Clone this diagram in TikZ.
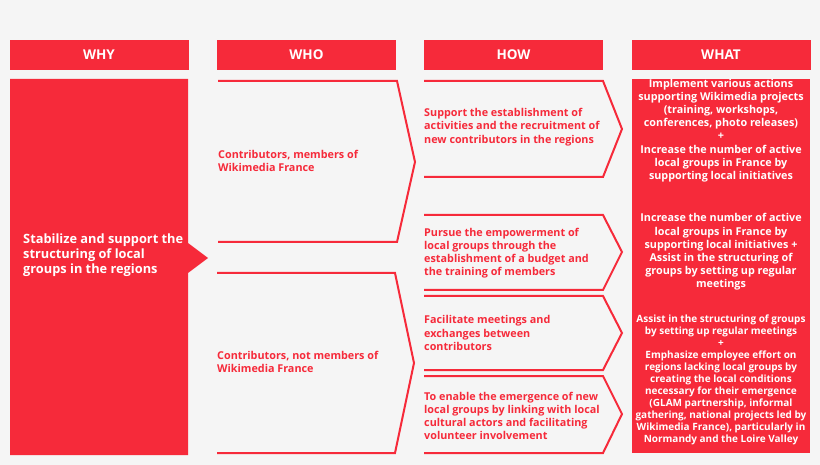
\documentclass[tikz,border=0pt]{standalone}
\usepackage{fontspec}
\setmainfont{Open Sans}
\definecolor{wmred}{RGB}{246,42,58}
\definecolor{wmback}{RGB}{245,245,245}

\begin{document}
\begin{tikzpicture}[x=1pt, y=-1pt,
  head/.style={fill=wmred, text=white, minimum width=179, minimum height=30, inner sep=0pt, font=\bfseries\fontsize{13.5}{15}\selectfont},
  redtext/.style={text=wmred, anchor=west, align=left, inner sep=0pt, font=\bfseries\fontsize{10.8}{13.2}\selectfont},
  whattext/.style={text=white, align=center, inner sep=0pt, font=\bfseries\fontsize{10.8}{13.2}\selectfont},
  chevron/.style={draw=wmred, line width=2pt, line join=miter}]

\fill [wmback] (0,0) rectangle (820,465);

% -------- headers -----------
\node [head] (hwhy)  at (99,55)    {WHY};
\node [head] (hwho)  at (306.5,55) {WHO};
\node [head] (hhow)  at (513.5,55) {HOW};
\node [head] (hwhat) at (721,55)   {WHAT};

% -------- WHY -----------
\fill [wmred] (10,79) -- (188,79) -- (188,243) -- (208,258) -- (188,273) -- (188,455) -- (10,455) -- cycle;
\node [text=white, anchor=west, align=left, inner sep=0pt, font=\bfseries\fontsize{12.8}{15}\selectfont] (why) at (23,255)
  {Stabilize and support the\\structuring of local\\groups in the regions};

% -------- WHO -----------
\draw [chevron] (218,81) -- (397,81) -- (415,162) -- (397,242) -- (218,242);
\node [redtext] (who1) at (218,161) {Contributors, members of\\Wikimedia France};

\draw [chevron] (217,273) -- (395,273) -- (414,363) -- (395,453) -- (217,453);
\node [redtext] (who2) at (217,362) {Contributors, not members of\\Wikimedia France};

% -------- HOW -----------
\draw [chevron] (424,81) -- (603,81) -- (622,129) -- (603,177) -- (424,177);
\node [redtext] (how1) at (424,127)
  {Support the establishment of\\activities and the recruitment of\\new contributors in the regions};

\draw [chevron] (424,215) -- (603,215) -- (622,252) -- (603,290) -- (424,290);
\node [redtext] (how2) at (424,253)
  {Pursue the empowerment of\\local groups through the\\establishment of a budget and\\the training of members};

\draw [chevron] (424,296) -- (603,296) -- (622,333) -- (603,370) -- (424,370);
\node [redtext] (how3) at (424,333)
  {Facilitate meetings and\\exchanges between\\contributors};

\draw [chevron] (424,376) -- (603,376) -- (622,414) -- (603,453) -- (424,453);
\node [redtext] (how4) at (424,416)
  {To enable the emergence of new\\local groups by linking with local\\cultural actors and facilitating\\volunteer involvement};

% -------- WHAT -----------
\fill [wmred] (632,79) rectangle (810,453);
\node [whattext] (what1) at (721,130.5)
  {Implement various actions\\supporting Wikimedia projects\\(training, workshops,\\conferences, photo releases)\\+\\Increase the number of active\\local groups in France by\\supporting local initiatives};
\node [whattext] (what2) at (721,252)
  {Increase the number of active\\local groups in France by\\supporting local initiatives +\\Assist in the structuring of\\groups by setting up regular\\meetings};
\node [whattext, font=\bfseries\fontsize{10}{12}\selectfont] (what3) at (721,380)
  {Assist in the structuring of groups\\by setting up regular meetings\\+\\Emphasize employee effort on\\regions lacking local groups by\\creating the local conditions\\necessary for their emergence\\(GLAM partnership, informal\\gathering, national projects led by\\Wikimedia France), particularly in\\Normandy and the Loire Valley};

\end{tikzpicture}
\end{document}
